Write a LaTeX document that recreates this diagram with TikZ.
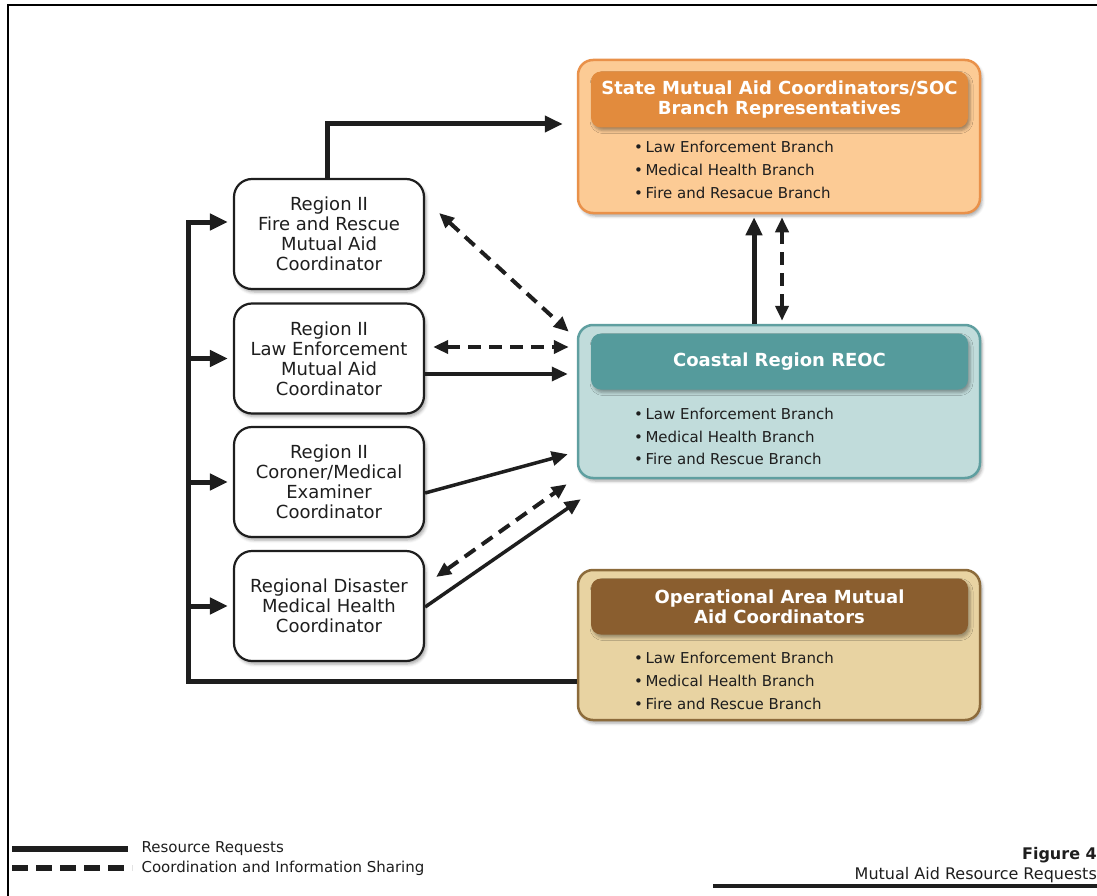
\documentclass[tikz,border=0pt]{standalone}
\usepackage{fontspec}
\setmainfont{DejaVu Sans}
\usetikzlibrary{arrows.meta,shadows.blur,calc}
\definecolor{orFill}{HTML}{FCCB95}
\definecolor{orLine}{HTML}{E9914A}
\definecolor{orHead}{HTML}{E28B3D}
\definecolor{tlFill}{HTML}{C1DCDB}
\definecolor{tlLine}{HTML}{5F9FA0}
\definecolor{tlHead}{HTML}{559B9C}
\definecolor{tnFill}{HTML}{E8D3A2}
\definecolor{tnLine}{HTML}{8C6B3B}
\definecolor{tnHead}{HTML}{8A5E2F}
\definecolor{ink}{HTML}{1E1E1E}
\begin{document}
\begin{tikzpicture}[x=1pt,y=-1pt,
  shd/.style={blur shadow={shadow xshift=2pt,shadow yshift=-3pt,shadow blur radius=3pt,shadow opacity=35}},
  lbox/.style={draw=ink, line width=2.2pt, fill=white, rounded corners=18pt,
    minimum width=190pt, minimum height=110pt, align=center, inner sep=0pt,
    font=\fontsize{18}{20}\selectfont, text=ink, shd},
  bigbox/.style={line width=2.5pt, rounded corners=15pt, minimum width=402pt, minimum height=153pt, inner sep=0pt, shd},
  headbox/.style={rounded corners=10pt, minimum width=377pt, minimum height=56pt, inner sep=0pt,
    align=center, text=white, font=\fontsize{18}{20}\selectfont\bfseries, shd},
  bul/.style={anchor=base west, font=\fontsize{15}{18}\selectfont, text=ink, inner sep=0pt},
  res/.style={draw=ink, line width=5pt},
  thin/.style={draw=ink, line width=3.5pt},
  coord/.style={draw=ink, line width=4pt, dash pattern=on 13pt off 8pt},
  bigtip/.style={-{Triangle[length=18pt,width=16pt]}},
  tip/.style={-{Triangle[length=16pt,width=14pt]}},
  dtip/.style={{Triangle[length=15pt,width=13pt]}-{Triangle[length=15pt,width=13pt]}}
]
\path[use as bounding box] (0,0) rectangle (1097,896);
\draw[line width=2.5pt] (1097,5) -- (8,5) -- (8,896);

% left boxes
\node[lbox] (b1) at (329,234) {Region II\\Fire and Rescue\\Mutual Aid\\Coordinator};
\node[lbox] (b2) at (329,358.5) {Region II\\Law Enforcement\\Mutual Aid\\Coordinator};
\node[lbox] (b3) at (329,482) {Region II\\Coroner/Medical\\Examiner\\Coordinator};
\node[lbox] (b4) at (329,606) {Regional Disaster\\Medical Health\\Coordinator};

% right boxes
\node[bigbox, draw=orLine, fill=orFill] (state) at (779,136.5) {};
\node[headbox, fill=orHead] (stateh) at (779.5,99.5) {State Mutual Aid Coordinators/SOC\\Branch Representatives};
\node[bul] (s1) at (634,153) {•\,Law Enforcement Branch};
\node[bul] (s2) at (634,176) {•\,Medical Health Branch};
\node[bul] (s3) at (634,199) {•\,Fire and Resacue Branch};

\node[bigbox, draw=tlLine, fill=tlFill] (reoc) at (779,401.5) {};
\node[headbox, fill=tlHead] (reoch) at (779.5,361.5) {Coastal Region REOC};
\node[bul] (r1) at (634,419) {•\,Law Enforcement Branch};
\node[bul] (r2) at (634,442) {•\,Medical Health Branch};
\node[bul] (r3) at (634,464) {•\,Fire and Rescue Branch};

\node[bigbox, draw=tnLine, fill=tnFill, minimum height=150pt] (oa) at (779,645) {};
\node[headbox, fill=tnHead] (oah) at (779.5,606.5) {Operational Area Mutual\\Aid Coordinators};
\node[bul] (o1) at (634,663) {•\,Law Enforcement Branch};
\node[bul] (o2) at (634,686) {•\,Medical Health Branch};
\node[bul] (o3) at (634,709) {•\,Fire and Rescue Branch};

% connectors
\coordinate (bus) at (188,681);
\draw[res, bigtip] (b1.north -| 327,0) |- ($(state.west |- 0,124)+(-14,0)$);
\draw[res, bigtip] (oa.west |- bus) -- (bus) |- ($(b1.west |- 0,222)+(-5,0)$);
\draw[res, bigtip] (bus |- b2.west) -- ($(b2.west)+(-5,0)$);
\draw[res, bigtip] (bus |- b3.west) -- ($(b3.west)+(-5,0)$);
\draw[res, bigtip] (bus |- b4.west) -- ($(b4.west)+(-5,0)$);

\draw[coord, dtip] ($(b1.east)+(14,-21)$) -- ($(reoc.north west)+(-8,8)$);
\draw[coord, dtip] ($(b2.east)+(8,-11.5)$) -- ($(reoc.west |- 0,347)+(-8,0)$);
\draw[thin, tip] (b2.east |- 0,374) -- ($(reoc.west |- 0,374)+(-9,0)$);
\draw[thin, tip] (b3.east |- 0,493) -- ($(reoc.south west)+(-9,-25)$);
\draw[coord, dtip] ($(b4.east)+(11,-29)$) -- ($(reoc.south west)+(-10,5)$);
\draw[thin, tip] (b4.east |- 0,607) -- ($(reoc.south west)+(4,20)$);

\draw[res, bigtip] (reoc.north -| 754,0) -- ($(state.south -| 754,0)+(0,3)$);
\draw[coord, dtip] ($(reoc.north -| 782,0)+(0,-3)$) -- ($(state.south -| 782,0)+(0,3)$);

% legend
\coordinate (la) at (12,849);
\coordinate (lb) at (128,849);
\coordinate (lc) at (12,868);
\coordinate (ld) at (132,868);
\draw[line width=6pt, ink] (la) -- (lb);
\draw[line width=6pt, ink, dash pattern=on 16pt off 8pt] (lc) -- (ld);
\node[anchor=west, font=\fontsize{15}{18}\selectfont, text=ink] (l1) at (138,849) {Resource Requests};
\node[anchor=west, font=\fontsize{15}{18}\selectfont, text=ink] (l2) at (138,868) {Coordination and Information Sharing};

% figure label
\node[anchor=base east, inner sep=0pt, font=\fontsize{16}{18}\selectfont\bfseries, text=ink] (fig) at (1097,859) {Figure 4};
\node[anchor=base east, inner sep=0pt, font=\fontsize{16}{18}\selectfont, text=ink] (cap) at (1097,879) {Mutual Aid Resource Requests};
\draw[line width=4pt, ink] (713,886) -- (1097,886);
\end{tikzpicture}
\end{document}
